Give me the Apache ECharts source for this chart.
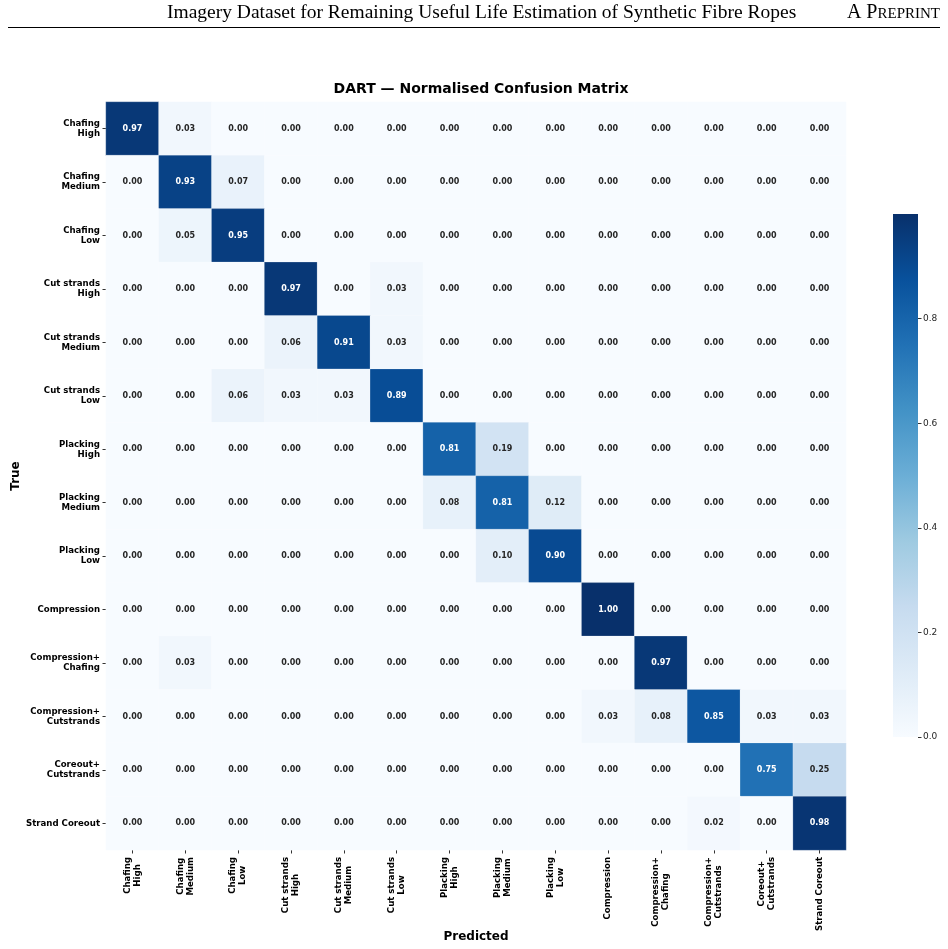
<!DOCTYPE html>
<html>
<head>
<meta charset="utf-8">
<script src="https://cdn.jsdelivr.net/npm/echarts@6/dist/echarts.min.js"></script>
<style>
  html, body { margin: 0; padding: 0; background: #fff; }
  #chart { width: 948px; height: 949px; }
</style>
</head>
<body>
<div id="chart"></div>
<script>
// class names (true = rows, predicted = columns)
const classes = [
  "Chafing\nHigh", "Chafing\nMedium", "Chafing\nLow",
  "Cut strands\nHigh", "Cut strands\nMedium", "Cut strands\nLow",
  "Placking\nHigh", "Placking\nMedium", "Placking\nLow",
  "Compression", "Compression+\nChafing", "Compression+\nCutstrands",
  "Coreout+\nCutstrands", "Strand Coreout"
];

// normalised confusion matrix, one row per true class
const rowChafingHigh      = [0.97, 0.03, 0, 0, 0, 0, 0, 0, 0, 0, 0, 0, 0, 0];
const rowChafingMedium    = [0, 0.93, 0.07, 0, 0, 0, 0, 0, 0, 0, 0, 0, 0, 0];
const rowChafingLow       = [0, 0.05, 0.95, 0, 0, 0, 0, 0, 0, 0, 0, 0, 0, 0];
const rowCutHigh          = [0, 0, 0, 0.97, 0, 0.03, 0, 0, 0, 0, 0, 0, 0, 0];
const rowCutMedium        = [0, 0, 0, 0.06, 0.91, 0.03, 0, 0, 0, 0, 0, 0, 0, 0];
const rowCutLow           = [0, 0, 0.06, 0.03, 0.03, 0.89, 0, 0, 0, 0, 0, 0, 0, 0];
const rowPlackingHigh     = [0, 0, 0, 0, 0, 0, 0.81, 0.19, 0, 0, 0, 0, 0, 0];
const rowPlackingMedium   = [0, 0, 0, 0, 0, 0, 0.08, 0.81, 0.12, 0, 0, 0, 0, 0];
const rowPlackingLow      = [0, 0, 0, 0, 0, 0, 0, 0.10, 0.90, 0, 0, 0, 0, 0];
const rowCompression      = [0, 0, 0, 0, 0, 0, 0, 0, 0, 1.00, 0, 0, 0, 0];
const rowCompChafing      = [0, 0.03, 0, 0, 0, 0, 0, 0, 0, 0, 0.97, 0, 0, 0];
const rowCompCutstrands   = [0, 0, 0, 0, 0, 0, 0, 0, 0, 0.03, 0.08, 0.85, 0.03, 0.03];
const rowCoreoutCut       = [0, 0, 0, 0, 0, 0, 0, 0, 0, 0, 0, 0, 0.75, 0.25];
const rowStrandCoreout    = [0, 0, 0, 0, 0, 0, 0, 0, 0, 0, 0, 0.02, 0, 0.98];

const matrix = [
  rowChafingHigh, rowChafingMedium, rowChafingLow,
  rowCutHigh, rowCutMedium, rowCutLow,
  rowPlackingHigh, rowPlackingMedium, rowPlackingLow,
  rowCompression, rowCompChafing, rowCompCutstrands,
  rowCoreoutCut, rowStrandCoreout
];

// colour bar ticks
const barTicks = [0, 0.2, 0.4, 0.6, 0.8];

// matplotlib "Blues"
const blues = ["#f7fbff", "#deebf7", "#c6dbef", "#9ecae1", "#6baed6",
               "#4292c6", "#2171b5", "#08519c", "#08306b"];

const heatData = [];
matrix.forEach((row, r) => {
  row.forEach((v, c) => {
    heatData.push({
      value: [c, r, v],
      label: { color: v > 0.5 ? "#ffffff" : "#262626" }
    });
  });
});

const chart = echarts.init(document.getElementById("chart"));

const tickLabel = {
  fontFamily: "DejaVu Sans",
  fontWeight: "bold",
  fontSize: 8.6,
  lineHeight: 10,
  color: "#000"
};

chart.setOption({
  backgroundColor: "#fff",
  animation: false,
  title: {
    text: "DART \u2014 Normalised Confusion Matrix",
    left: 476,
    top: 77,
    textAlign: "center",
    textStyle: {
      fontFamily: "DejaVu Sans",
      fontWeight: "bold",
      fontSize: 14,
      color: "#000"
    }
  },
  graphic: [
    {
      type: "text",
      left: 167,
      top: 3,
      style: {
        text: "Imagery Dataset for Remaining Useful Life Estimation of Synthetic Fibre Ropes",
        font: "19.5px 'Liberation Serif'",
        fill: "#000"
      }
    },
    {
      type: "text",
      right: 8,
      top: 3,
      style: {
        text: "{a|A P}{b|REPRINT}",
        rich: {
          a: { font: "20px 'Liberation Serif'", fill: "#000" },
          b: { font: "15px 'Liberation Serif'", fill: "#000", padding: [3, 0, 0, 0] }
        }
      }
    },
    {
      type: "line",
      shape: { x1: 8, y1: 27.5, x2: 940, y2: 27.5 },
      style: { stroke: "#000", lineWidth: 1 }
    }
  ],
  grid: [
    { left: 106, top: 102, width: 740, height: 748, outerBoundsMode: "none", containLabel: false },
    { left: 893, top: 214, width: 25, height: 523, outerBoundsMode: "none", containLabel: false }
  ],
  xAxis: [
    {
      type: "category",
      gridIndex: 0,
      data: classes,
      name: "Predicted",
      nameLocation: "middle",
      nameGap: 81,
      nameMoveOverlap: false,
      nameTextStyle: { fontFamily: "DejaVu Sans", fontWeight: "bold", fontSize: 12, color: "#000" },
      axisLine: { show: false },
      axisTick: { show: true, alignWithLabel: true, length: 3.5, lineStyle: { color: "#333" } },
      axisLabel: {
        interval: 0,
        rotate: 90,
        margin: 7,
        formatter: v => v.split("\n").map(s => "{c|" + s + "}").join("\n"),
        rich: { c: Object.assign({ align: "center" }, tickLabel) }
      },
      splitLine: { show: false }
    },
    {
      type: "category",
      gridIndex: 1,
      data: ["bar"],
      show: false
    }
  ],
  yAxis: [
    {
      type: "category",
      gridIndex: 0,
      data: classes,
      inverse: true,
      name: "True",
      nameLocation: "middle",
      nameGap: 84,
      nameMoveOverlap: false,
      nameRotate: 90,
      nameTextStyle: { fontFamily: "DejaVu Sans", fontWeight: "bold", fontSize: 12, color: "#000" },
      axisLine: { show: false },
      axisTick: { show: true, alignWithLabel: true, length: 3.5, lineStyle: { color: "#333" } },
      axisLabel: Object.assign({ interval: 0, margin: 6, align: "right" }, tickLabel),
      splitLine: { show: false }
    },
    {
      type: "value",
      gridIndex: 1,
      position: "right",
      min: 0,
      max: 1,
      interval: 0.2,
      axisLine: { show: false },
      axisTick: { show: true, length: 3.5, lineStyle: { color: "#333" }, customValues: barTicks },
      axisLabel: {
        margin: 5,
        fontFamily: "DejaVu Sans",
        fontSize: 9,
        color: "#262626",
        customValues: barTicks,
        formatter: v => v.toFixed(1)
      },
      splitLine: { show: false }
    }
  ],
  visualMap: {
    show: false,
    seriesIndex: 0,
    dimension: 2,
    min: 0,
    max: 1,
    inRange: { color: blues }
  },
  series: [
    {
      type: "heatmap",
      xAxisIndex: 0,
      yAxisIndex: 0,
      data: heatData,
      itemStyle: { borderColor: "rgba(255,255,255,0.35)", borderWidth: 0.6 },
      label: {
        show: true,
        fontFamily: "DejaVu Sans",
        fontWeight: "bold",
        fontSize: 8,
        formatter: p => p.value[2].toFixed(2)
      },
      emphasis: { disabled: true }
    },
    {
      type: "bar",
      xAxisIndex: 1,
      yAxisIndex: 1,
      data: [1],
      barWidth: "100%",
      silent: true,
      itemStyle: {
        color: new echarts.graphic.LinearGradient(0, 1, 0, 0,
          blues.map((c, i) => ({ offset: i / (blues.length - 1), color: c })))
      }
    }
  ]
});

window.onresize = function () {
  chart.resize();
};
</script>
</body>
</html>
